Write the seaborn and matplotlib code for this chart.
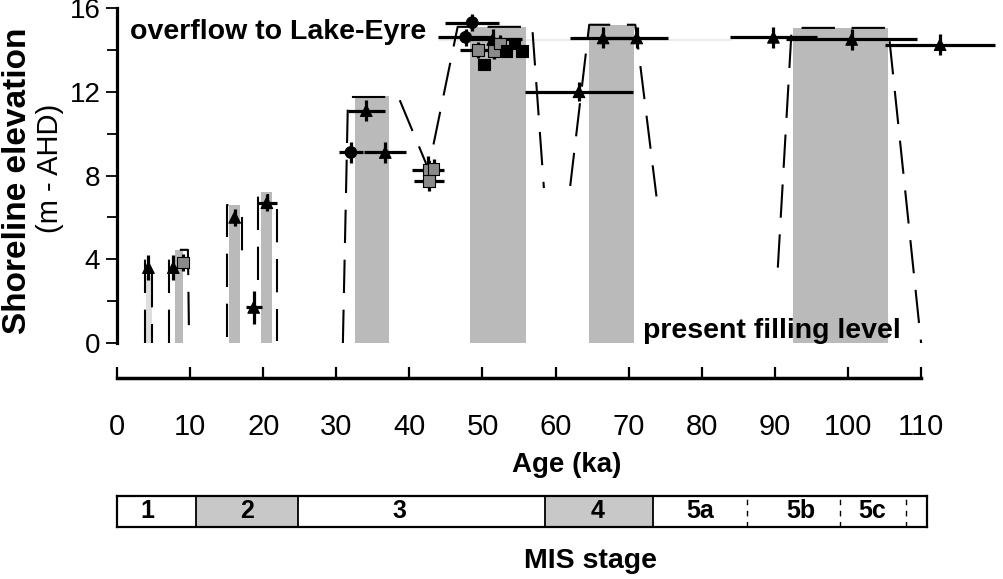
import matplotlib
matplotlib.use("Agg")
import matplotlib.pyplot as plt
from matplotlib import font_manager as fm
import seaborn as sns
import numpy as np
import pandas as pd

# ---------------- data ----------------
# shaded highstand bars (ka, m)
bar_start = [3.95, 7.9, 15.3, 19.7, 32.6, 48.3, 64.6, 92.5]
bar_end = [4.75, 9.0, 16.8, 21.2, 37.2, 55.9, 70.7, 105.5]
bar_top = [3.2, 4.45, 6.6, 7.2, 11.8, 15.1, 15.2, 15.05]
bar_color = ["#dedede", "#bababa", "#bababa", "#bababa", "#bababa", "#bababa", "#bababa", "#bababa"]

# dashed lake-level envelopes (age ka, elevation m)
env1a_age = [3.8, 3.8]; env1a_elev = [0.0, 4.0]
env1b_age = [4.8, 4.8]; env1b_elev = [3.3, 0.0]
env2a_age = [7.1, 7.1]; env2a_elev = [0.0, 4.0]
env2b_age = [8.6, 9.7, 9.85]; env2b_elev = [4.45, 4.45, 0.4]
env3a_age = [15.0, 15.0, 16.4]; env3a_elev = [0.3, 6.6, 6.6]
env3b_age = [17.1, 17.1]; env3b_elev = [6.0, 4.2]
env4a_age = [19.3, 19.3, 20.7, 20.7]; env4a_elev = [3.0, 7.2, 7.2, 6.8]
env4b_age = [21.9, 21.9]; env4b_elev = [6.4, 0.1]
env5_age = [30.9, 31.6, 38.5, 42.6, 46.6, 56.8, 58.4]
env5_elev = [0.0, 11.75, 11.75, 8.3, 15.1, 15.1, 7.4]
env7_age = [62.0, 64.6, 70.9, 73.8]
env7_elev = [7.5, 15.2, 15.2, 7.0]
env8_age = [90.4, 92.3, 105.5, 110.0]
env8_elev = [3.6, 15.05, 15.05, 0.0]

# dated shorelines
pt_age = [4.3, 7.7, 9.0, 16.1, 18.7, 20.5, 32.0, 34.1, 36.7, 42.6, 43.3, 42.7,
          48.6, 47.7, 51.4, 49.4, 51.6, 52.4, 50.2, 53.3, 54.4, 55.4,
          63.2, 66.5, 71.1, 89.8, 100.5, 112.6]
pt_elev = [3.6, 3.6, 3.85, 6.0, 1.7, 6.7, 9.1, 11.1, 9.1, 8.25, 8.3, 7.75,
           15.3, 14.6, 14.5, 14.0, 13.95, 14.3, 13.3, 13.95, 14.3, 13.95,
           12.0, 14.57, 14.57, 14.6, 14.5, 14.25]
pt_xerr = [0.0, 0.5, 0.0, 0.0, 1.1, 1.4, 1.6, 2.5, 2.9, 2.2, 0.0, 2.1,
           3.7, 3.8, 4.0, 2.5, 0.0, 0.0, 0.0, 0.0, 0.0, 0.0,
           7.45, 4.5, 4.3, 6.0, 9.0, 7.5]
pt_yerr = [0.6, 0.6, 0.4, 0.4, 0.8, 0.4, 0.5, 0.5, 0.5, 0.7, 0.5, 0.5,
           0.4, 0.4, 0.5, 0.4, 0.4, 0.4, 0.0, 0.0, 0.0, 0.0,
           0.45, 0.5, 0.5, 0.5, 0.5, 0.5]
pt_kind = ["tri", "tri", "gsq", "tri", "tri", "tri", "dot", "tri", "tri", "gsq", "gsq", "gsq",
           "dot", "dot", "tri", "gsq", "gsq", "gsq", "bsq", "bsq", "bsq", "bsq",
           "tri", "tri", "tri", "tri", "tri", "tri"]

# axis ticks
x_ticks = [0, 10, 20, 30, 40, 50, 60, 70, 80, 90, 100, 110]
x_long_ticks = [0, 50, 100]
y_ticks = [0, 4, 8, 12, 16]
y_minor = [2, 6, 10, 14]

# MIS stages
mis_labels = ["1", "2", "3", "4", "5a", "5b", "5c", ""]
mis_start = [0.0, 10.8, 24.8, 58.5, 73.3, 86.2, 98.9, 107.9]
mis_end = [10.8, 24.8, 58.5, 73.3, 86.2, 98.9, 107.9, 110.8]
mis_shaded = [False, True, False, True, False, False, False, False]
mis_label_x = [4.2, 17.8, 38.6, 65.8, 79.8, 93.6, 103.3, 109.0]
mis_solid_div = [10.8, 24.8, 58.5, 73.3]
mis_dash_div = [86.2, 98.9, 107.9]

# ---------------- fonts ----------------
def pick(fams):
    for f in fams:
        try:
            fm.findfont(fm.FontProperties(family=f), fallback_to_default=False)
            return f
        except Exception:
            pass
    return "DejaVu Sans"

sns.set_style("ticks")
SANS = pick(["Liberation Sans", "Arial", "DejaVu Sans"])
NARROW = pick(["Liberation Sans Narrow", "DejaVu Sans Condensed", SANS])
plt.rcParams["font.family"] = [SANS, "DejaVu Sans"]
for k in ["text.color", "axes.labelcolor", "xtick.color", "ytick.color", "axes.edgecolor"]:
    plt.rcParams[k] = "black"

W, H = 1004, 579
fig = plt.figure(figsize=(W / 100, H / 100), dpi=100)
PPK = 7.31  # pixels per ka
X0 = 117

def fx(px):
    return px / W

def fy(py):
    return 1 - py / H

# ---------------- main panel ----------------
ax = fig.add_axes([fx(X0), fy(343), 120 * PPK / W, 335 / H])
ax.set_xlim(0, 120)
ax.set_ylim(0, 16)
ax.patch.set_alpha(0)

ax.bar(bar_start, bar_top, width=np.array(bar_end) - np.array(bar_start), align="edge",
       color=bar_color, linewidth=0, zorder=1)

# faint overflow level
ax.plot([44, 84], [14.45, 14.45], color="#ececec", lw=1.5, zorder=0.5)

envs = [(env1a_age, env1a_elev), (env1b_age, env1b_elev), (env2a_age, env2a_elev),
        (env2b_age, env2b_elev), (env3a_age, env3a_elev), (env3b_age, env3b_elev),
        (env4a_age, env4a_elev), (env4b_age, env4b_elev), (env5_age, env5_elev),
        (env7_age, env7_elev), (env8_age, env8_elev)]
rows = []
for i, (a, e) in enumerate(envs):
    for j, (aa, ee) in enumerate(zip(a, e)):
        rows.append({"seg": i, "order": j, "age": aa, "elev": ee})
env_df = pd.DataFrame(rows)
for seg, g in env_df.groupby("seg"):
    sns.lineplot(data=g, x="age", y="elev", sort=False, estimator=None, ax=ax,
                 color="black", lw=1.5, linestyle=(0, (16, 8)), zorder=2)

ax.errorbar(pt_age, pt_elev, xerr=pt_xerr, yerr=pt_yerr, fmt="none", ecolor="black",
            elinewidth=2.3, capsize=0, zorder=3, clip_on=False)

pts = pd.DataFrame({"age": pt_age, "elev": pt_elev, "kind": pt_kind})
sns.scatterplot(data=pts, x="age", y="elev", hue="kind", style="kind",
                palette={"tri": "black", "dot": "black", "gsq": "#8a8a8a", "bsq": "black"},
                markers={"tri": "^", "dot": "o", "gsq": "s", "bsq": "s"},
                s=70, edgecolor="black", linewidth=0.8, legend=False, ax=ax, zorder=4,
                clip_on=False)

ax.set_xlabel("")
ax.set_ylabel("")
for s in ["top", "right", "bottom"]:
    ax.spines[s].set_visible(False)
ax.spines["left"].set_linewidth(2.3)
ax.spines["left"].set_color("black")
ax.set_xticks([])
ax.set_yticks(y_ticks)
ax.set_yticks(y_minor, minor=True)
ax.tick_params(axis="y", which="major", direction="out", length=8, width=1.3,
               labelsize=20, pad=4, colors="black")
ax.tick_params(axis="y", which="minor", direction="out", length=7, width=1.3, colors="black")

ax.text(1.8, 14.85, "overflow to Lake-Eyre", fontsize=20.5, fontweight="bold",
        ha="left", va="center", zorder=6, color="black")
ax.text(72.0, 0.55, "present filling level", fontsize=20.5, fontweight="bold",
        ha="left", va="center", zorder=6, color="black")

# ---------------- age axis ----------------
axa = fig.add_axes([fx(X0), fy(378), 120 * PPK / W, 0.05])
axa.set_xlim(0, 120)
axa.patch.set_alpha(0)
for s in ["top", "right", "left"]:
    axa.spines[s].set_visible(False)
axa.spines["bottom"].set_bounds(0, 110)
axa.spines["bottom"].set_linewidth(2.5)
axa.spines["bottom"].set_color("black")
axa.set_yticks([])
axa.set_xticks(x_ticks)
axa.set_xticklabels([str(t) for t in x_ticks], fontfamily=NARROW)
axa.set_xticks(x_long_ticks, minor=True)
axa.tick_params(axis="x", which="major", direction="in", length=8, width=1.6,
                labelsize=21, pad=25, colors="black")
axa.tick_params(axis="x", which="minor", direction="in", length=12, width=1.6, colors="black")
fig.text(fx(567), fy(465), "Age (ka)", fontsize=20, fontweight="bold", ha="center",
         va="center", color="black")

# ---------------- MIS bar ----------------
axm = fig.add_axes([fx(X0), fy(527), 110.8 * PPK / W, 31 / H])
axm.set_xlim(0, 110.8)
axm.set_ylim(0, 1)
axm.barh([0.5] * len(mis_start), np.array(mis_end) - np.array(mis_start), left=mis_start,
         height=1, color=["#c8c8c8" if s else "white" for s in mis_shaded], linewidth=0)
for d in mis_solid_div:
    axm.axvline(d, color="black", lw=1.3)
for d in mis_dash_div:
    axm.axvline(d, color="black", lw=1.0, linestyle=(0, (4, 4)))
for lab, xl in zip(mis_labels, mis_label_x):
    axm.text(xl, 0.5, lab, fontsize=18, fontweight="bold", ha="center", va="center",
             fontfamily=NARROW, color="black")
for s in axm.spines.values():
    s.set_linewidth(1.6)
    s.set_color("black")
axm.set_xticks([])
axm.set_yticks([])
fig.text(fx(590), fy(561), "MIS stage", fontsize=20.5, fontweight="bold", ha="center",
         va="center", color="black")

# ---------------- y labels ----------------
fig.text(fx(18), fy(181), "Shoreline elevation", fontsize=24, fontweight="bold",
         rotation=90, ha="center", va="center", color="black")
fig.text(fx(50), fy(168), "(m - AHD)", fontsize=21, rotation=90, ha="center",
         va="center", color="black")

fig.savefig("out.png", dpi=100)
